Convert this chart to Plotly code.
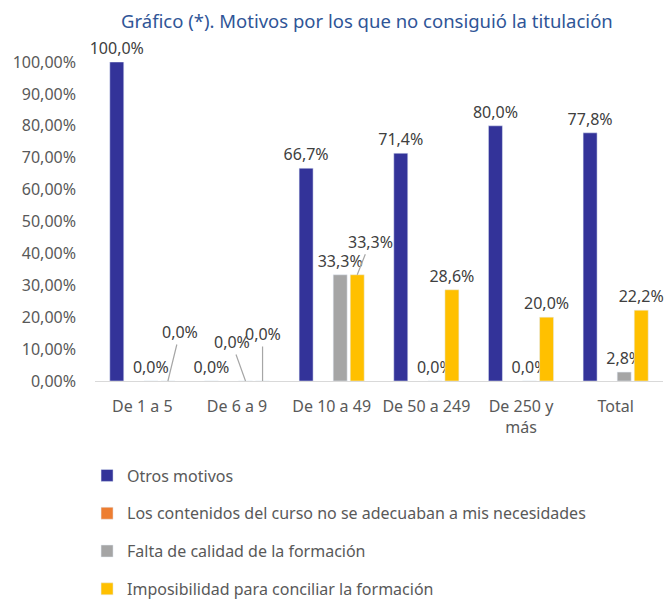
import plotly.graph_objects as go

# ---- data ----
categories = ["De 1 a 5", "De 6 a 9", "De 10 a 49", "De 50 a 249", "De 250 y<br>más", "Total"]
series_names = [
    "Otros motivos",
    "Los contenidos del curso no se adecuaban a mis necesidades",
    "Falta de calidad de la formación",
    "Imposibilidad para conciliar la formación",
]
otros = [100.0, 0.0, 66.7, 71.4, 80.0, 77.8]
contenidos = [None, None, None, None, None, None]
falta_calidad = [0.0, 0.0, 33.3, 0.0, 0.0, 2.8]
imposibilidad = [0.0, 0.0, 33.3, 28.6, 20.0, 22.2]
y_tickvals = [0, 10, 20, 30, 40, 50, 60, 70, 80, 90, 100]

values = [otros, contenidos, falta_calidad, imposibilidad]
colors = ["#333399", "#ED7D31", "#A5A5A5", "#FFC000"]

# labels that Excel moved away from the bar, with a leader line: (category idx, series idx, dx, dy in px)
moved_labels = [(0, 3, 12, -49), (1, 2, -14, -39), (1, 3, 0, -47), (2, 3, 13, -33)]
moved_set = {(c, s) for c, s, _, _ in moved_labels}

FONT = "Noto Sans"
TXT = "#404040"
TICK = "#595959"
BARGAP = 0.28
GROUPGAP = 0.18


def fmt(v):
    return f"{v:.1f}%".replace(".", ",")


fig = go.Figure()
for s, (name, vals, col) in enumerate(zip(series_names, values, colors)):
    texts = []
    for c, v in enumerate(vals):
        if v is None or (c, s) in moved_set:
            texts.append("")
        else:
            texts.append(fmt(v))
    fig.add_trace(go.Bar(
        name=name, x=categories, y=vals, marker_color=col,
        text=texts, texttemplate="%{text}", textposition="outside",
        constraintext="none",
        textfont=dict(family=FONT, size=16, color=TXT),
        cliponaxis=False, legendgroup=str(s),
    ))

slot = (1 - BARGAP) / 4
for c, s, dx, dy in moved_labels:
    v = values[s][c]
    fig.add_annotation(
        x=c + (s - 1.5) * slot, y=v, xref="x", yref="y",
        text=fmt(v), showarrow=True, arrowhead=0, arrowwidth=1.2,
        arrowcolor="#A6A6A6", ax=dx, ay=dy, standoff=0,
        font=dict(family=FONT, size=16, color=TXT),
    )

y_ticktext = [f"{v:.2f}%".replace(".", ",") for v in y_tickvals]

fig.update_layout(
    width=672, height=601,
    margin=dict(l=95, r=9, t=62, b=220, autoexpand=False),
    paper_bgcolor="white", plot_bgcolor="white",
    barmode="group", bargap=BARGAP, bargroupgap=GROUPGAP,
    separators=",.",
    font=dict(family=FONT, size=16, color=TICK),
    title=dict(
        text="Gráfico (*). Motivos por los que no consiguió la titulación",
        x=0.546, xanchor="center", xref="container",
        y=1 - 22 / 601, yanchor="middle", yref="container",
        font=dict(family=FONT, size=18.5, color="#2F5597"),
    ),
    xaxis=dict(
        showline=True, linecolor="#D9D9D9", linewidth=1.3,
        showgrid=False, ticks="", ticklabelstandoff=11,
        tickfont=dict(family=FONT, size=16, color=TICK),
    ),
    yaxis=dict(
        range=[0, 100], tickvals=y_tickvals, ticktext=y_ticktext,
        showgrid=False, showline=False, zeroline=False, ticks="",
        ticklabelstandoff=18,
        tickfont=dict(family=FONT, size=16, color=TICK),
    ),
    legend=dict(
        orientation="v", x=-0.014, xanchor="left", y=-0.243, yanchor="top",
        tracegroupgap=14, font=dict(family=FONT, size=16, color=TICK),
        bgcolor="rgba(0,0,0,0)",
    ),
    showlegend=True,
)

fig.write_html(
    "out.html",
    config={"displayModeBar": False},
    post_script="document.body.style.margin='0';document.body.style.padding='0';",
)
